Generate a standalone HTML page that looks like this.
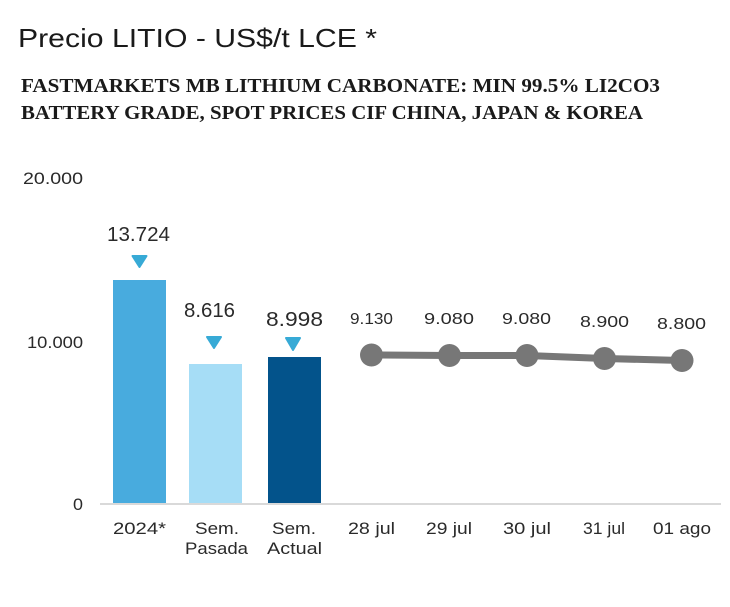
<!DOCTYPE html>
<html><head><meta charset="utf-8"><style>
html,body{margin:0;padding:0;background:#fff;}
svg{display:block;}
</style></head><body>
<svg width="730" height="607" viewBox="0 0 730 607" xmlns="http://www.w3.org/2000/svg">
<rect width="730" height="607" fill="#fff"/>
<text x="18" y="47" font-family="Liberation Sans, sans-serif" font-size="26" fill="#1a1a1a" textLength="359" lengthAdjust="spacingAndGlyphs">Precio LITIO - US$/t LCE *</text>
<text x="21" y="92" font-family="Liberation Serif, serif" font-weight="bold" font-size="19.5" fill="#1a1a1a" textLength="639" lengthAdjust="spacingAndGlyphs">FASTMARKETS MB LITHIUM CARBONATE: MIN 99.5% LI2CO3</text>
<text x="21" y="119" font-family="Liberation Serif, serif" font-weight="bold" font-size="19.5" fill="#1a1a1a" textLength="622" lengthAdjust="spacingAndGlyphs">BATTERY GRADE, SPOT PRICES CIF CHINA, JAPAN &amp; KOREA</text>

<g font-family="Liberation Sans, sans-serif" fill="#2a2a2a">
<text x="23" y="184" font-size="17" textLength="60" lengthAdjust="spacingAndGlyphs">20.000</text>
<text x="27" y="348" font-size="17" textLength="56" lengthAdjust="spacingAndGlyphs">10.000</text>
<text x="73" y="510" font-size="17" textLength="10" lengthAdjust="spacingAndGlyphs">0</text>
</g>

<rect x="113" y="280" width="53" height="224" fill="#48abde"/>
<rect x="189" y="364" width="53" height="140" fill="#a6ddf6"/>
<rect x="268" y="357" width="53" height="147" fill="#03538b"/>
<line x1="100" y1="504" x2="721" y2="504" stroke="#d9d9d9" stroke-width="2"/>

<g fill="#37aad6" stroke="#37aad6" stroke-width="2" stroke-linejoin="round">
<polygon points="132.5,256 146.5,256 139.5,267"/>
<polygon points="207,337 221,337 214,348"/>
<polygon points="286,338 300,338 293,350"/>
</g>

<g font-family="Liberation Sans, sans-serif" fill="#2a2a2a" font-size="20">
<text x="107" y="241" textLength="63" lengthAdjust="spacingAndGlyphs">13.724</text>
<text x="184" y="317" textLength="51" lengthAdjust="spacingAndGlyphs">8.616</text>
<text x="266" y="326" textLength="57" lengthAdjust="spacingAndGlyphs">8.998</text>
</g>

<polyline points="371.5,355 449.5,355.5 527,355.5 604.5,358.5 682,360.5" fill="none" stroke="#777" stroke-width="7" stroke-linejoin="round"/>
<g fill="#777">
<circle cx="371.5" cy="355" r="11.5"/>
<circle cx="449.5" cy="355.5" r="11.5"/>
<circle cx="527" cy="355.5" r="11.5"/>
<circle cx="604.5" cy="358.5" r="11.5"/>
<circle cx="682" cy="360.5" r="11.5"/>
</g>

<g font-family="Liberation Sans, sans-serif" fill="#2a2a2a" font-size="16">
<text x="350" y="324" textLength="43" lengthAdjust="spacingAndGlyphs">9.130</text>
<text x="424" y="324" textLength="50" lengthAdjust="spacingAndGlyphs">9.080</text>
<text x="502" y="324" textLength="49" lengthAdjust="spacingAndGlyphs">9.080</text>
<text x="580" y="327" textLength="49" lengthAdjust="spacingAndGlyphs">8.900</text>
<text x="657" y="329" textLength="49" lengthAdjust="spacingAndGlyphs">8.800</text>
</g>

<g font-family="Liberation Sans, sans-serif" fill="#2a2a2a" font-size="17">
<text x="113" y="534" textLength="53" lengthAdjust="spacingAndGlyphs">2024*</text>
<text x="195" y="534" textLength="44" lengthAdjust="spacingAndGlyphs">Sem.</text>
<text x="185" y="554" textLength="63" lengthAdjust="spacingAndGlyphs">Pasada</text>
<text x="272" y="534" textLength="44" lengthAdjust="spacingAndGlyphs">Sem.</text>
<text x="267" y="554" textLength="55" lengthAdjust="spacingAndGlyphs">Actual</text>
<text x="348" y="534" textLength="47" lengthAdjust="spacingAndGlyphs">28 jul</text>
<text x="426" y="534" textLength="46" lengthAdjust="spacingAndGlyphs">29 jul</text>
<text x="503" y="534" textLength="48" lengthAdjust="spacingAndGlyphs">30 jul</text>
<text x="583" y="534" textLength="42" lengthAdjust="spacingAndGlyphs">31 jul</text>
<text x="653" y="534" textLength="58" lengthAdjust="spacingAndGlyphs">01 ago</text>
</g>
</svg>
</body></html>
